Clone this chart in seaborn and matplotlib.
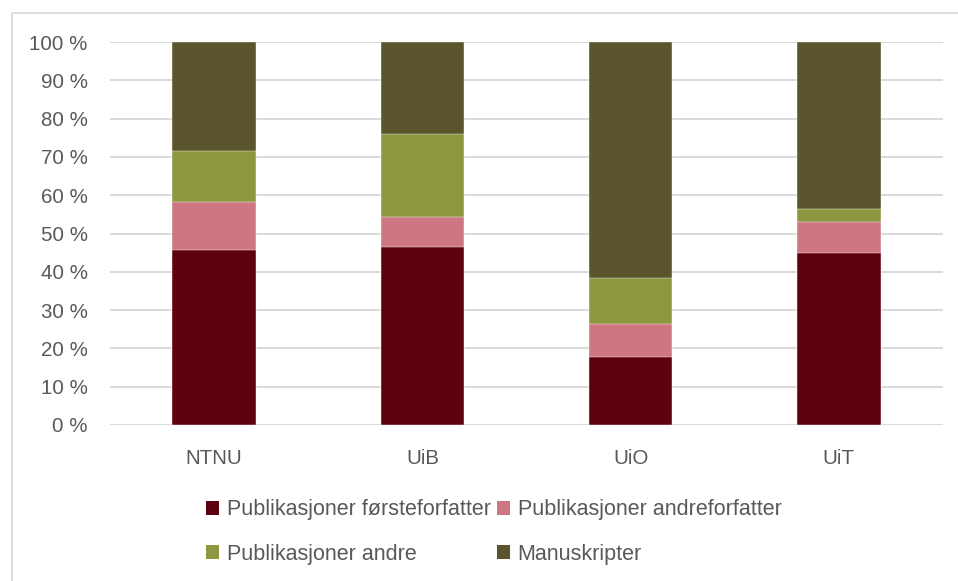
import matplotlib
matplotlib.use("Agg")
import matplotlib.pyplot as plt
import seaborn as sns
import pandas as pd
import numpy as np
from matplotlib.patches import Rectangle, Patch

categories = ["NTNU", "UiB", "UiO", "UiT"]
series_names = ["Publikasjoner førsteforfatter", "Publikasjoner andreforfatter",
                "Publikasjoner andre", "Manuskripter"]
forsteforfatter = [45.8, 46.6, 17.8, 45.0]
andreforfatter = [12.3, 7.6, 8.7, 8.1]
andre = [13.5, 21.7, 11.9, 3.2]
manuskripter = [28.4, 24.1, 61.6, 43.7]
yticks = [0, 10, 20, 30, 40, 50, 60, 70, 80, 90, 100]
ytick_labels = ["0 %", "10 %", "20 %", "30 %", "40 %", "50 %", "60 %", "70 %", "80 %", "90 %", "100 %"]

colors = ["#5E000E", "#CF7683", "#8D973F", "#5A552C"]

sns.set_theme(style="white")
plt.rcParams['font.family'] = ['Liberation Sans', 'DejaVu Sans']

df = pd.DataFrame({"cat": categories,
                   series_names[0]: forsteforfatter,
                   series_names[1]: andreforfatter,
                   series_names[2]: andre,
                   series_names[3]: manuskripter})
vals = df[series_names].to_numpy()
cum = np.cumsum(vals, axis=1)

fig = plt.figure(figsize=(9.58, 5.81), dpi=100)
W, H = 958, 581
ax = fig.add_axes([110 / W, (H - 425) / H, (943 - 110) / W, (425 - 42) / H])

# stacked: draw cumulative totals from top to bottom
for i in range(len(series_names) - 1, -1, -1):
    d = pd.DataFrame({"cat": categories, "v": cum[:, i]})
    sns.barplot(data=d, x="cat", y="v", color=colors[i], width=0.4,
                saturation=1, ax=ax, zorder=3, edgecolor="#FFFFFF", linewidth=0.3)

ax.set_xlim(-0.5, 3.5)
ax.set_ylim(0, 100)
ax.set_yticks(yticks)
ax.set_yticklabels(ytick_labels)
ax.set_xlabel("")
ax.set_ylabel("")
ax.grid(axis="y", color="#D9D9D9", linewidth=1.4, zorder=0)
ax.set_axisbelow(True)
for s in ax.spines.values():
    s.set_visible(False)
ax.tick_params(axis="y", length=0, pad=16, labelsize=14.8, labelcolor="#595959")
ax.tick_params(axis="x", length=0, pad=17.5, labelsize=14.8, labelcolor="#595959")

# outer chart frame
fig.add_artist(Rectangle((12 / W, -0.1), 1.2, (H - 13) / H + 0.1, transform=fig.transFigure,
                         fill=False, edgecolor="#D9D9D9", linewidth=1.2))

handles = [Patch(facecolor=c, edgecolor="none") for c in colors]
order = [0, 2, 1, 3]  # row-wise fill in a 2-column legend
fig.legend([handles[k] for k in order], [series_names[k] for k in order], ncol=2,
           loc="upper left", bbox_to_anchor=(187 / W, (H - 480) / H), frameon=False,
           fontsize=15.5, labelcolor="#595959", handlelength=0.6, handleheight=0.6,
           handletextpad=0.35, columnspacing=0.3, labelspacing=1.08)

fig.savefig("out.png", dpi=100)
